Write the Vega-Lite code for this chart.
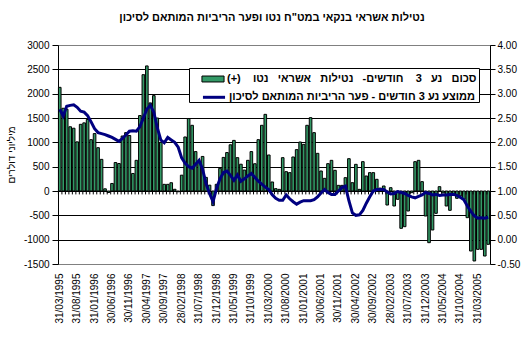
{
  "$schema": "https://vega.github.io/schema/vega-lite/v6.json",
  "width": 432,
  "height": 219,
  "autosize": "none",
  "padding": {"left": 58, "top": 45, "right": 39, "bottom": 74},
  "background": "white",
  "config": {
    "font": "Liberation Sans",
    "view": {"stroke": "#808080", "strokeWidth": 1},
    "legend": {
      "orient": "none",
      "padding": 2,
      "cornerRadius": 0,
      "symbolSize": 289,
      "symbolOffset": 13,
      "labelOffset": 5,
      "labelFont": "Liberation Sans",
      "labelFontSize": 11,
      "labelFontWeight": "bold",
      "labelColor": "black",
      "labelLimit": 400,
      "rowPadding": 0
    }
  },
  "title": {
    "text": "נטילות אשראי בנקאי במט\"ח נטו ופער הריביות המותאם לסיכון",
    "font": "Liberation Sans",
    "fontSize": 11,
    "fontWeight": "bold",
    "color": "black",
    "anchor": "middle",
    "dx": -2,
    "offset": 17
  },
  "data": {
    "values": [
      {"d": "31/03/1995", "v": 2130, "r": 2.68},
      {"d": "30/04/1995", "v": 1700, "r": 2.54},
      {"d": "31/05/1995", "v": 1680, "r": 2.74},
      {"d": "30/06/1995", "v": 1320, "r": 2.76},
      {"d": "31/07/1995", "v": 1290, "r": 2.77},
      {"d": "31/08/1995", "v": 1010, "r": 2.72},
      {"d": "30/09/1995", "v": 1370, "r": 2.64},
      {"d": "31/10/1995", "v": 1400, "r": 2.62},
      {"d": "30/11/1995", "v": 1470, "r": 2.55},
      {"d": "31/12/1995", "v": 1055, "r": 2.42},
      {"d": "31/01/1996", "v": 1180, "r": 2.28},
      {"d": "29/02/1996", "v": 890, "r": 2.20},
      {"d": "31/03/1996", "v": 650, "r": 2.18},
      {"d": "30/04/1996", "v": 45, "r": 2.16},
      {"d": "31/05/1996", "v": -30, "r": 2.13},
      {"d": "30/06/1996", "v": 155, "r": 2.10},
      {"d": "31/07/1996", "v": 585, "r": 2.06},
      {"d": "31/08/1996", "v": 565, "r": 2.02},
      {"d": "30/09/1996", "v": 1130, "r": 2.08},
      {"d": "31/10/1996", "v": 1200, "r": 2.15},
      {"d": "30/11/1996", "v": 1140, "r": 2.23},
      {"d": "31/12/1996", "v": 360, "r": 2.24},
      {"d": "31/01/1997", "v": 630, "r": 2.23},
      {"d": "28/02/1997", "v": 1550, "r": 2.32},
      {"d": "31/03/1997", "v": 2390, "r": 2.50},
      {"d": "30/04/1997", "v": 2570, "r": 2.68},
      {"d": "31/05/1997", "v": 1810, "r": 2.76},
      {"d": "30/06/1997", "v": 1960, "r": 2.62},
      {"d": "31/07/1997", "v": 1500, "r": 2.30},
      {"d": "31/08/1997", "v": 1000, "r": 2.05},
      {"d": "30/09/1997", "v": 137, "r": 1.99},
      {"d": "31/10/1997", "v": 137, "r": 2.10},
      {"d": "30/11/1997", "v": 170, "r": 2.05},
      {"d": "31/12/1997", "v": 35, "r": 2.00},
      {"d": "31/01/1998", "v": -15, "r": 1.90},
      {"d": "28/02/1998", "v": 325, "r": 1.68},
      {"d": "31/03/1998", "v": 1110, "r": 1.57},
      {"d": "30/04/1998", "v": 1490, "r": 1.50},
      {"d": "31/05/1998", "v": 1350, "r": 1.47},
      {"d": "30/06/1998", "v": 810, "r": 1.55},
      {"d": "31/07/1998", "v": 600, "r": 1.63},
      {"d": "31/08/1998", "v": 710, "r": 1.45},
      {"d": "30/09/1998", "v": 280, "r": 1.15},
      {"d": "31/10/1998", "v": 120, "r": 0.95},
      {"d": "30/11/1998", "v": -300, "r": 0.78},
      {"d": "31/12/1998", "v": 137, "r": 1.05},
      {"d": "31/01/1999", "v": 466, "r": 1.25},
      {"d": "28/02/1999", "v": 690, "r": 1.38},
      {"d": "31/03/1999", "v": 790, "r": 1.41},
      {"d": "30/04/1999", "v": 950, "r": 1.32},
      {"d": "31/05/1999", "v": 1040, "r": 1.22},
      {"d": "30/06/1999", "v": 685, "r": 1.33},
      {"d": "31/07/1999", "v": 550, "r": 1.20},
      {"d": "31/08/1999", "v": 430, "r": 1.25},
      {"d": "30/09/1999", "v": 630, "r": 1.31},
      {"d": "31/10/1999", "v": 810, "r": 1.36},
      {"d": "30/11/1999", "v": 560, "r": 1.28},
      {"d": "31/12/1999", "v": 1055, "r": 1.20},
      {"d": "31/01/2000", "v": 1350, "r": 1.14},
      {"d": "29/02/2000", "v": 1575, "r": 1.08},
      {"d": "31/03/2000", "v": 740, "r": 1.03},
      {"d": "30/04/2000", "v": 185, "r": 0.92},
      {"d": "31/05/2000", "v": 48, "r": 0.85},
      {"d": "30/06/2000", "v": 34, "r": 0.81},
      {"d": "31/07/2000", "v": 685, "r": 0.81},
      {"d": "31/08/2000", "v": 397, "r": 0.92},
      {"d": "30/09/2000", "v": 377, "r": 0.84},
      {"d": "31/10/2000", "v": 699, "r": 0.78},
      {"d": "30/11/2000", "v": 850, "r": 0.73},
      {"d": "31/12/2000", "v": 1007, "r": 0.77},
      {"d": "31/01/2001", "v": 959, "r": 0.80},
      {"d": "28/02/2001", "v": 1350, "r": 0.80},
      {"d": "31/03/2001", "v": 1507, "r": 0.80},
      {"d": "30/04/2001", "v": 1199, "r": 0.82},
      {"d": "31/05/2001", "v": 774, "r": 0.88},
      {"d": "30/06/2001", "v": 411, "r": 0.96},
      {"d": "31/07/2001", "v": 260, "r": 1.03},
      {"d": "31/08/2001", "v": 562, "r": 0.97},
      {"d": "30/09/2001", "v": 630, "r": 0.93},
      {"d": "31/10/2001", "v": 425, "r": 0.93},
      {"d": "30/11/2001", "v": 116, "r": 1.00},
      {"d": "31/12/2001", "v": 116, "r": 1.07},
      {"d": "31/01/2002", "v": 274, "r": 1.10},
      {"d": "28/02/2002", "v": 664, "r": 0.80},
      {"d": "31/03/2002", "v": 171, "r": 0.55},
      {"d": "30/04/2002", "v": 548, "r": 0.50},
      {"d": "31/05/2002", "v": 34, "r": 0.51},
      {"d": "30/06/2002", "v": 603, "r": 0.60},
      {"d": "31/07/2002", "v": 308, "r": 0.75},
      {"d": "31/08/2002", "v": 377, "r": 0.88},
      {"d": "30/09/2002", "v": 377, "r": 1.00},
      {"d": "31/10/2002", "v": 240, "r": 1.03},
      {"d": "30/11/2002", "v": 60, "r": 1.03},
      {"d": "31/12/2002", "v": 103, "r": 1.03},
      {"d": "31/01/2003", "v": -288, "r": 0.98},
      {"d": "28/02/2003", "v": 68, "r": 0.94},
      {"d": "31/03/2003", "v": -308, "r": 0.95},
      {"d": "30/04/2003", "v": -171, "r": 0.99},
      {"d": "31/05/2003", "v": -767, "r": 0.97},
      {"d": "30/06/2003", "v": -733, "r": 0.95},
      {"d": "31/07/2003", "v": -411, "r": 0.91},
      {"d": "31/08/2003", "v": -34, "r": 0.88},
      {"d": "30/09/2003", "v": 603, "r": 0.86},
      {"d": "31/10/2003", "v": 630, "r": 0.89},
      {"d": "30/11/2003", "v": 192, "r": 0.92},
      {"d": "31/12/2003", "v": -514, "r": 0.97},
      {"d": "31/01/2004", "v": -1062, "r": 0.95},
      {"d": "29/02/2004", "v": -801, "r": 0.92},
      {"d": "31/03/2004", "v": -459, "r": 0.93},
      {"d": "30/04/2004", "v": 89, "r": 0.91},
      {"d": "31/05/2004", "v": -40, "r": 0.92},
      {"d": "30/06/2004", "v": -308, "r": 0.92},
      {"d": "31/07/2004", "v": -397, "r": 0.93},
      {"d": "31/08/2004", "v": -60, "r": 0.93},
      {"d": "30/09/2004", "v": -150, "r": 0.91},
      {"d": "31/10/2004", "v": -100, "r": 0.87},
      {"d": "30/11/2004", "v": -171, "r": 0.82},
      {"d": "31/12/2004", "v": -548, "r": 0.69},
      {"d": "31/01/2005", "v": -1233, "r": 0.58},
      {"d": "28/02/2005", "v": -1438, "r": 0.49},
      {"d": "31/03/2005", "v": -1199, "r": 0.44},
      {"d": "30/04/2005", "v": -1199, "r": 0.45},
      {"d": "31/05/2005", "v": -1336, "r": 0.44},
      {"d": "30/06/2005", "v": -1096, "r": 0.46}
    ]
  },
  "layer": [
    {
      "mark": {"type": "bar", "stroke": "black", "strokeWidth": 1},
      "encoding": {
        "x": {
          "field": "d",
          "type": "ordinal",
          "sort": null,
          "scale": {"paddingInner": 0.25, "paddingOuter": 0.125},
          "axis": {
            "orient": "bottom",
            "values": ["31/03/1995", "31/08/1995", "31/01/1996", "30/06/1996", "30/11/1996", "30/04/1997", "30/09/1997", "28/02/1998", "31/07/1998", "31/12/1998", "31/05/1999", "31/10/1999", "31/03/2000", "31/08/2000", "31/01/2001", "30/06/2001", "30/11/2001", "30/04/2002", "30/09/2002", "28/02/2003", "31/07/2003", "31/12/2003", "31/05/2004", "31/10/2004", "31/03/2005"],
            "labelAngle": -90,
            "labelFont": "Liberation Sans",
            "labelFontSize": 10,
            "labelColor": "black",
            "labelPadding": 9,
            "labelOverlap": false,
            "ticks": false,
            "domain": false,
            "grid": false,
            "title": null
          }
        },
        "y": {
          "field": "v",
          "type": "quantitative",
          "scale": {"domain": [-1500, 3000], "nice": false, "zero": false},
          "axis": {
            "orient": "left",
            "values": [-1500, -1000, -500, 0, 500, 1000, 1500, 2000, 2500, 3000],
            "labelExpr": "'' + datum.value",
            "labelFont": "Liberation Sans",
            "labelFontSize": 10,
            "labelColor": "black",
            "tickColor": "black",
            "tickSize": 6,
            "labelPadding": 3,
            "domainColor": "black",
            "grid": true,
            "gridColor": {"condition": {"test": "datum.value === 3000 || datum.value === -1500", "value": "#808080"}, "value": "black"},
            "gridOpacity": 1,
            "title": "מיליוני דולרים",
            "titleFont": "Liberation Sans",
            "titleFontSize": 10,
            "titleFontWeight": "normal",
            "titleColor": "black",
            "titlePadding": 7
          }
        },
        "fill": {
          "datum": "bars",
          "scale": {"domain": ["bars"], "range": ["#339966"]},
          "legend": {
            "legendX": 131,
            "legendY": 23,
            "strokeColor": "black",
            "fillColor": "white",
            "title": "\u00a0",
            "titleOrient": "bottom",
            "titleFontSize": 11,
            "titlePadding": 5,
            "symbolType": "M-1.3,-0.35H1.3V0.35H-1.3Z",
            "symbolStrokeColor": "black",
            "symbolStrokeWidth": 1,
            "symbolOpacity": 1,
            "labelExpr": "'סכום\u00a0\u00a0 נע\u00a0\u00a0 3\u00a0\u00a0\u00a0 חודשים-\u00a0\u00a0 נטילות\u00a0\u00a0 אשראי\u00a0\u00a0 נטו\u00a0\u00a0\u00a0 (+)\u200f'"
          }
        }
      }
    },
    {
      "mark": {"type": "rule", "color": "black", "strokeWidth": 1},
      "encoding": {
        "x": {"field": "d", "type": "ordinal", "sort": null, "bandPosition": 0},
        "y": {"datum": 0, "type": "quantitative", "scale": {"domain": [-1500, 3000], "nice": false, "zero": false}, "axis": null},
        "y2": {"datum": -70}
      }
    },
    {
      "mark": {"type": "line", "strokeWidth": 3},
      "encoding": {
        "x": {"field": "d", "type": "ordinal", "sort": null},
        "y": {
          "field": "r",
          "type": "quantitative",
          "scale": {"domain": [-0.5, 4], "nice": false, "zero": false},
          "axis": {
            "orient": "right",
            "values": [-0.5, 0, 0.5, 1, 1.5, 2, 2.5, 3, 3.5, 4],
            "labelExpr": "replace(format(datum.value, '.2f'), '\u2212', '-')",
            "labelFont": "Liberation Sans",
            "labelFontSize": 10,
            "labelColor": "black",
            "tickColor": "black",
            "tickSize": 5,
            "labelPadding": 2,
            "domainColor": "black",
            "grid": false,
            "title": null
          }
        },
        "stroke": {
          "datum": "line",
          "scale": {"domain": ["line"], "range": ["#000080"]},
          "legend": {
            "legendX": 131,
            "legendY": 40.3,
            "strokeColor": "transparent",
            "fillColor": "transparent",
            "title": null,
            "symbolType": "M-1.3,0H1.3",
            "symbolStrokeWidth": 3,
            "symbolFillColor": "transparent",
            "symbolOpacity": 1,
            "labelExpr": "'ממוצע נע 3 חודשים - פער הריביות המותאם לסיכון\u200f'"
          }
        }
      }
    }
  ],
  "resolve": {"scale": {"y": "independent"}}
}
